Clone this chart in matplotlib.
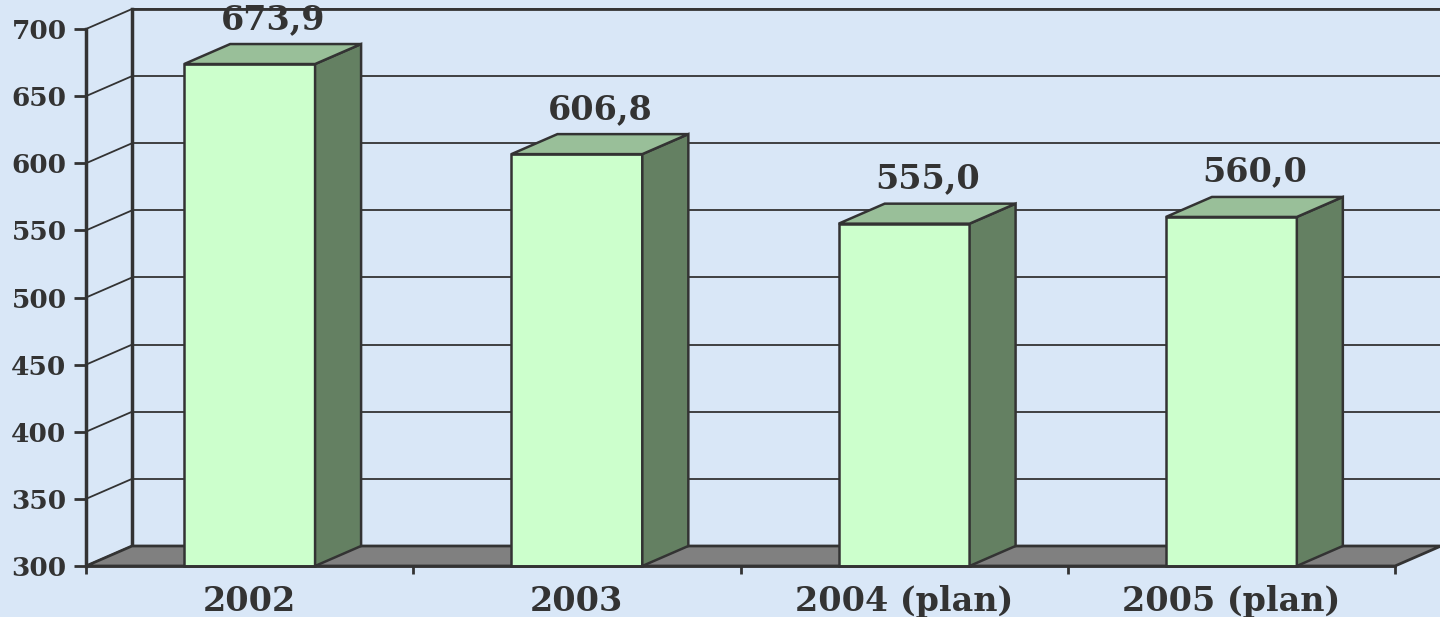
import matplotlib.pyplot as plt
from matplotlib.patches import Polygon

categories = ['2002', '2003', '2004 (plan)', '2005 (plan)']
values = [673.9, 606.8, 555.0, 560.0]
value_labels = ['673,9', '606,8', '555,0', '560,0']
yticks = [300, 350, 400, 450, 500, 550, 600, 650, 700]

ymin, ymax = 300, 700
# depth of the 3d box in data units
dx = 0.1406
dy = 14.9

fig = plt.figure(figsize=(14.4, 6.17), dpi=100)
fig.patch.set_facecolor('#d9e7f7')
ax = fig.add_axes([86 / 1440, 51 / 617, 1309 / 1440, 537 / 617])
ax.set_facecolor('none')
ax.set_xlim(0, len(categories))
ax.set_ylim(ymin, ymax)

edge = '#333333'
n = len(categories)

# back wall gridlines and side wall diagonals
for v in yticks:
    ax.plot([dx, n + dx], [v + dy, v + dy], color=edge, lw=1.3, clip_on=False, zorder=1)
    ax.plot([0, dx], [v, v + dy], color=edge, lw=1.3, clip_on=False, zorder=1)
ax.plot([dx, dx], [ymin + dy, ymax + dy], color=edge, lw=2.5, clip_on=False, zorder=1)
ax.plot([dx, n + dx], [ymax + dy, ymax + dy], color=edge, lw=2, clip_on=False, zorder=1)

# floor
floor = Polygon([(0, ymin), (n, ymin), (n + dx, ymin + dy), (dx, ymin + dy)],
                closed=True, facecolor='#808080', edgecolor=edge, lw=2, clip_on=False, zorder=2)
ax.add_patch(floor)

# bars
for i, v in enumerate(values):
    x0 = i + 0.3
    x1 = i + 0.7
    front = Polygon([(x0, ymin), (x1, ymin), (x1, v), (x0, v)],
                    facecolor='#ccffcc', edgecolor=edge, lw=1.8, clip_on=False, zorder=3)
    side = Polygon([(x1, ymin), (x1 + dx, ymin + dy), (x1 + dx, v + dy), (x1, v)],
                   facecolor='#648062', edgecolor=edge, lw=1.8, clip_on=False, zorder=3)
    top = Polygon([(x0, v), (x1, v), (x1 + dx, v + dy), (x0 + dx, v + dy)],
                  facecolor='#99bf99', edgecolor=edge, lw=1.8, clip_on=False, zorder=3)
    ax.add_patch(front)
    ax.add_patch(side)
    ax.add_patch(top)
    ax.annotate(value_labels[i], (i + 0.5 + dx / 2, v + dy), xytext=(0, 6),
                textcoords='offset points', ha='center', va='bottom',
                fontsize=24, fontweight='bold', family='DejaVu Serif', color=edge,
                annotation_clip=False, zorder=5)

# axes
for s in ['top', 'right']:
    ax.spines[s].set_visible(False)
ax.spines['left'].set_color(edge)
ax.spines['left'].set_linewidth(2.5)
ax.spines['left'].set_zorder(4)
ax.spines['bottom'].set_color(edge)
ax.spines['bottom'].set_linewidth(2)
ax.spines['bottom'].set_zorder(4)

ax.set_yticks(yticks)
ax.set_yticklabels([str(t) for t in yticks])
ax.tick_params(axis='y', direction='out', length=9, width=2, color=edge, pad=5,
               labelsize=19, labelcolor=edge)
for lab in ax.get_yticklabels():
    lab.set_fontweight('bold')
    lab.set_family('DejaVu Serif')

ax.set_xticks(range(n + 1))
ax.set_xticklabels([''] * (n + 1))
ax.set_xticks([i + 0.5 for i in range(n)], minor=True)
ax.set_xticklabels(categories, minor=True)
ax.tick_params(axis='x', which='major', direction='out', length=6, width=2, color=edge)
ax.tick_params(axis='x', which='minor', length=0, pad=14, labelsize=24, labelcolor=edge)
for lab in ax.get_xticklabels(minor=True):
    lab.set_fontweight('bold')
    lab.set_family('DejaVu Serif')

fig.savefig('out.png', dpi=100, facecolor=fig.get_facecolor())
